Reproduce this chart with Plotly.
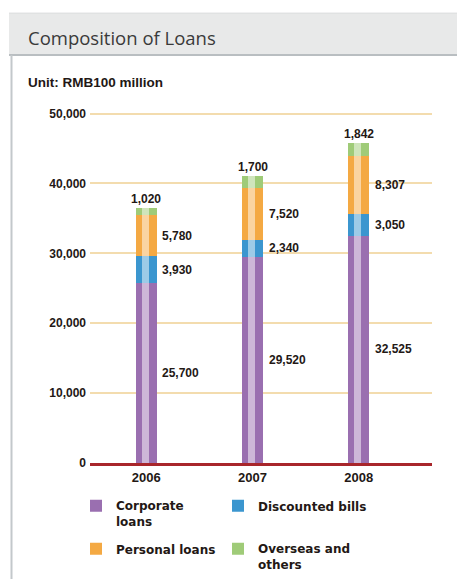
import plotly.graph_objects as go

years = ["2006", "2007", "2008"]
corporate = [25700, 29520, 32525]
discounted = [3930, 2340, 3050]
personal = [5780, 7520, 8307]
overseas = [1020, 1700, 1842]
y_ticks = [0, 10000, 20000, 30000, 40000, 50000]
y_tick_labels = ["0", "10,000", "20,000", "30,000", "40,000", "50,000"]

series = [
    ("Corporate<br>loans", corporate, "#9a6fb0"),
    ("Discounted bills", discounted, "#3b96cf"),
    ("Personal loans", personal, "#f4a943"),
    ("Overseas and<br>others", overseas, "#9fcb78"),
]

W, H = 457, 579
ml, mr, mt, mb = 90, 25, 110, 115.5
pw, ph = W - ml - mr, H - mt - mb


def px(x):
    return (x - ml) / pw


def py(y):
    return (H - mb - y) / ph


legend_ids = ["legend", "legend2", "legend3", "legend4"]
legend_pos = [(76, 492), (218, 492), (76, 535), (218, 535)]

fig = go.Figure()
for (name, vals, col), lid in zip(series, legend_ids):
    fig.add_trace(go.Bar(x=list(range(len(years))), y=vals, name="<b>%s</b>" % name, width=0.2,
                         legend=lid, marker=dict(color=col, line=dict(width=0))))
for name, vals, col in series:
    fig.add_trace(go.Bar(x=list(range(len(years))), y=vals, xaxis="x2", showlegend=False,
                         width=0.07, offset=-0.045, hoverinfo="skip",
                         marker=dict(color="rgba(255,255,255,0.5)", line=dict(width=0))))

lab_font = dict(family="Liberation Sans", size=12, color="#231815")
annotations = []
for i, yr in enumerate(years):
    base = 0
    for k, (name, vals, col) in enumerate(series):
        v = vals[i]
        if k < 3:
            annotations.append(dict(x=i, y=base + v / 2, xref="x", yref="y",
                                    text="<b>{:,}</b>".format(v), showarrow=False,
                                    xanchor="left", xshift=14, font=lab_font))
        else:
            annotations.append(dict(x=i, y=base + v, xref="x", yref="y",
                                    text="<b>{:,}</b>".format(v), showarrow=False,
                                    yanchor="bottom", yshift=0, font=lab_font))
        base += v

annotations.append(dict(x=px(26), y=py(37), xref="paper", yref="paper", text="Composition of Loans",
                        showarrow=False, xanchor="left", yanchor="middle",
                        font=dict(family="Open Sans", size=18.5, color="#3a3a3a")))
annotations.append(dict(x=px(26), y=py(82), xref="paper", yref="paper", text="<b>Unit: RMB100 million</b>",
                        showarrow=False, xanchor="left", yanchor="middle",
                        font=dict(family="Liberation Sans", size=13.5, color="#231815")))

shapes = [
    dict(type="rect", xref="paper", yref="paper", x0=px(9), x1=px(460), y0=py(13), y1=py(54),
         fillcolor="#e8e9e9", line=dict(width=0), layer="below"),
    dict(type="line", xref="paper", yref="paper", x0=px(9), x1=px(460), y0=py(13), y1=py(13),
         line=dict(color="#d8dadb", width=1)),
    dict(type="line", xref="paper", yref="paper", x0=px(9), x1=px(460), y0=py(55), y1=py(55),
         line=dict(color="#b9bec1", width=2)),
    dict(type="line", xref="paper", yref="paper", x0=px(11.5), x1=px(11.5), y0=py(55), y1=py(585),
         line=dict(color="#c3c8cb", width=2)),
]

legend_font = dict(family="DejaVu Sans", size=12, color="#231815")
legends = {}
for lid, (lx, ly) in zip(legend_ids, legend_pos):
    legends[lid] = dict(x=px(lx), y=py(ly), xanchor="left", yanchor="top",
                        orientation="v", itemwidth=30, font=legend_font, valign="top",
                        bgcolor="rgba(0,0,0,0)", borderwidth=0)

fig.update_layout(
    width=W, height=H,
    margin=dict(l=ml, r=mr, t=mt, b=mb, pad=0, autoexpand=False),
    paper_bgcolor="white", plot_bgcolor="white",
    barmode="stack",
    annotations=annotations,
    shapes=shapes,
    xaxis=dict(range=[-0.53, 2.69], showgrid=False,
               tickvals=list(range(len(years))), ticktext=["<b>%s</b>" % y for y in years],
               showline=True, linecolor="#a8262b", linewidth=3,
               ticks="", tickfont=dict(family="Liberation Sans", size=13, color="#231815"),
               zeroline=False),
    xaxis2=dict(overlaying="x", matches="x", visible=False),
    yaxis=dict(range=[0, 50500], tickvals=y_ticks, ticktext=["<b>%s</b>" % t for t in y_tick_labels],
               showgrid=True, gridcolor="#f3dcae", gridwidth=1.5, zeroline=False,
               showline=False, ticks="", ticklabelstandoff=3,
               tickfont=dict(family="Liberation Sans", size=12, color="#231815")),
    showlegend=True,
    **legends,
)

fig.write_html("out.html")
